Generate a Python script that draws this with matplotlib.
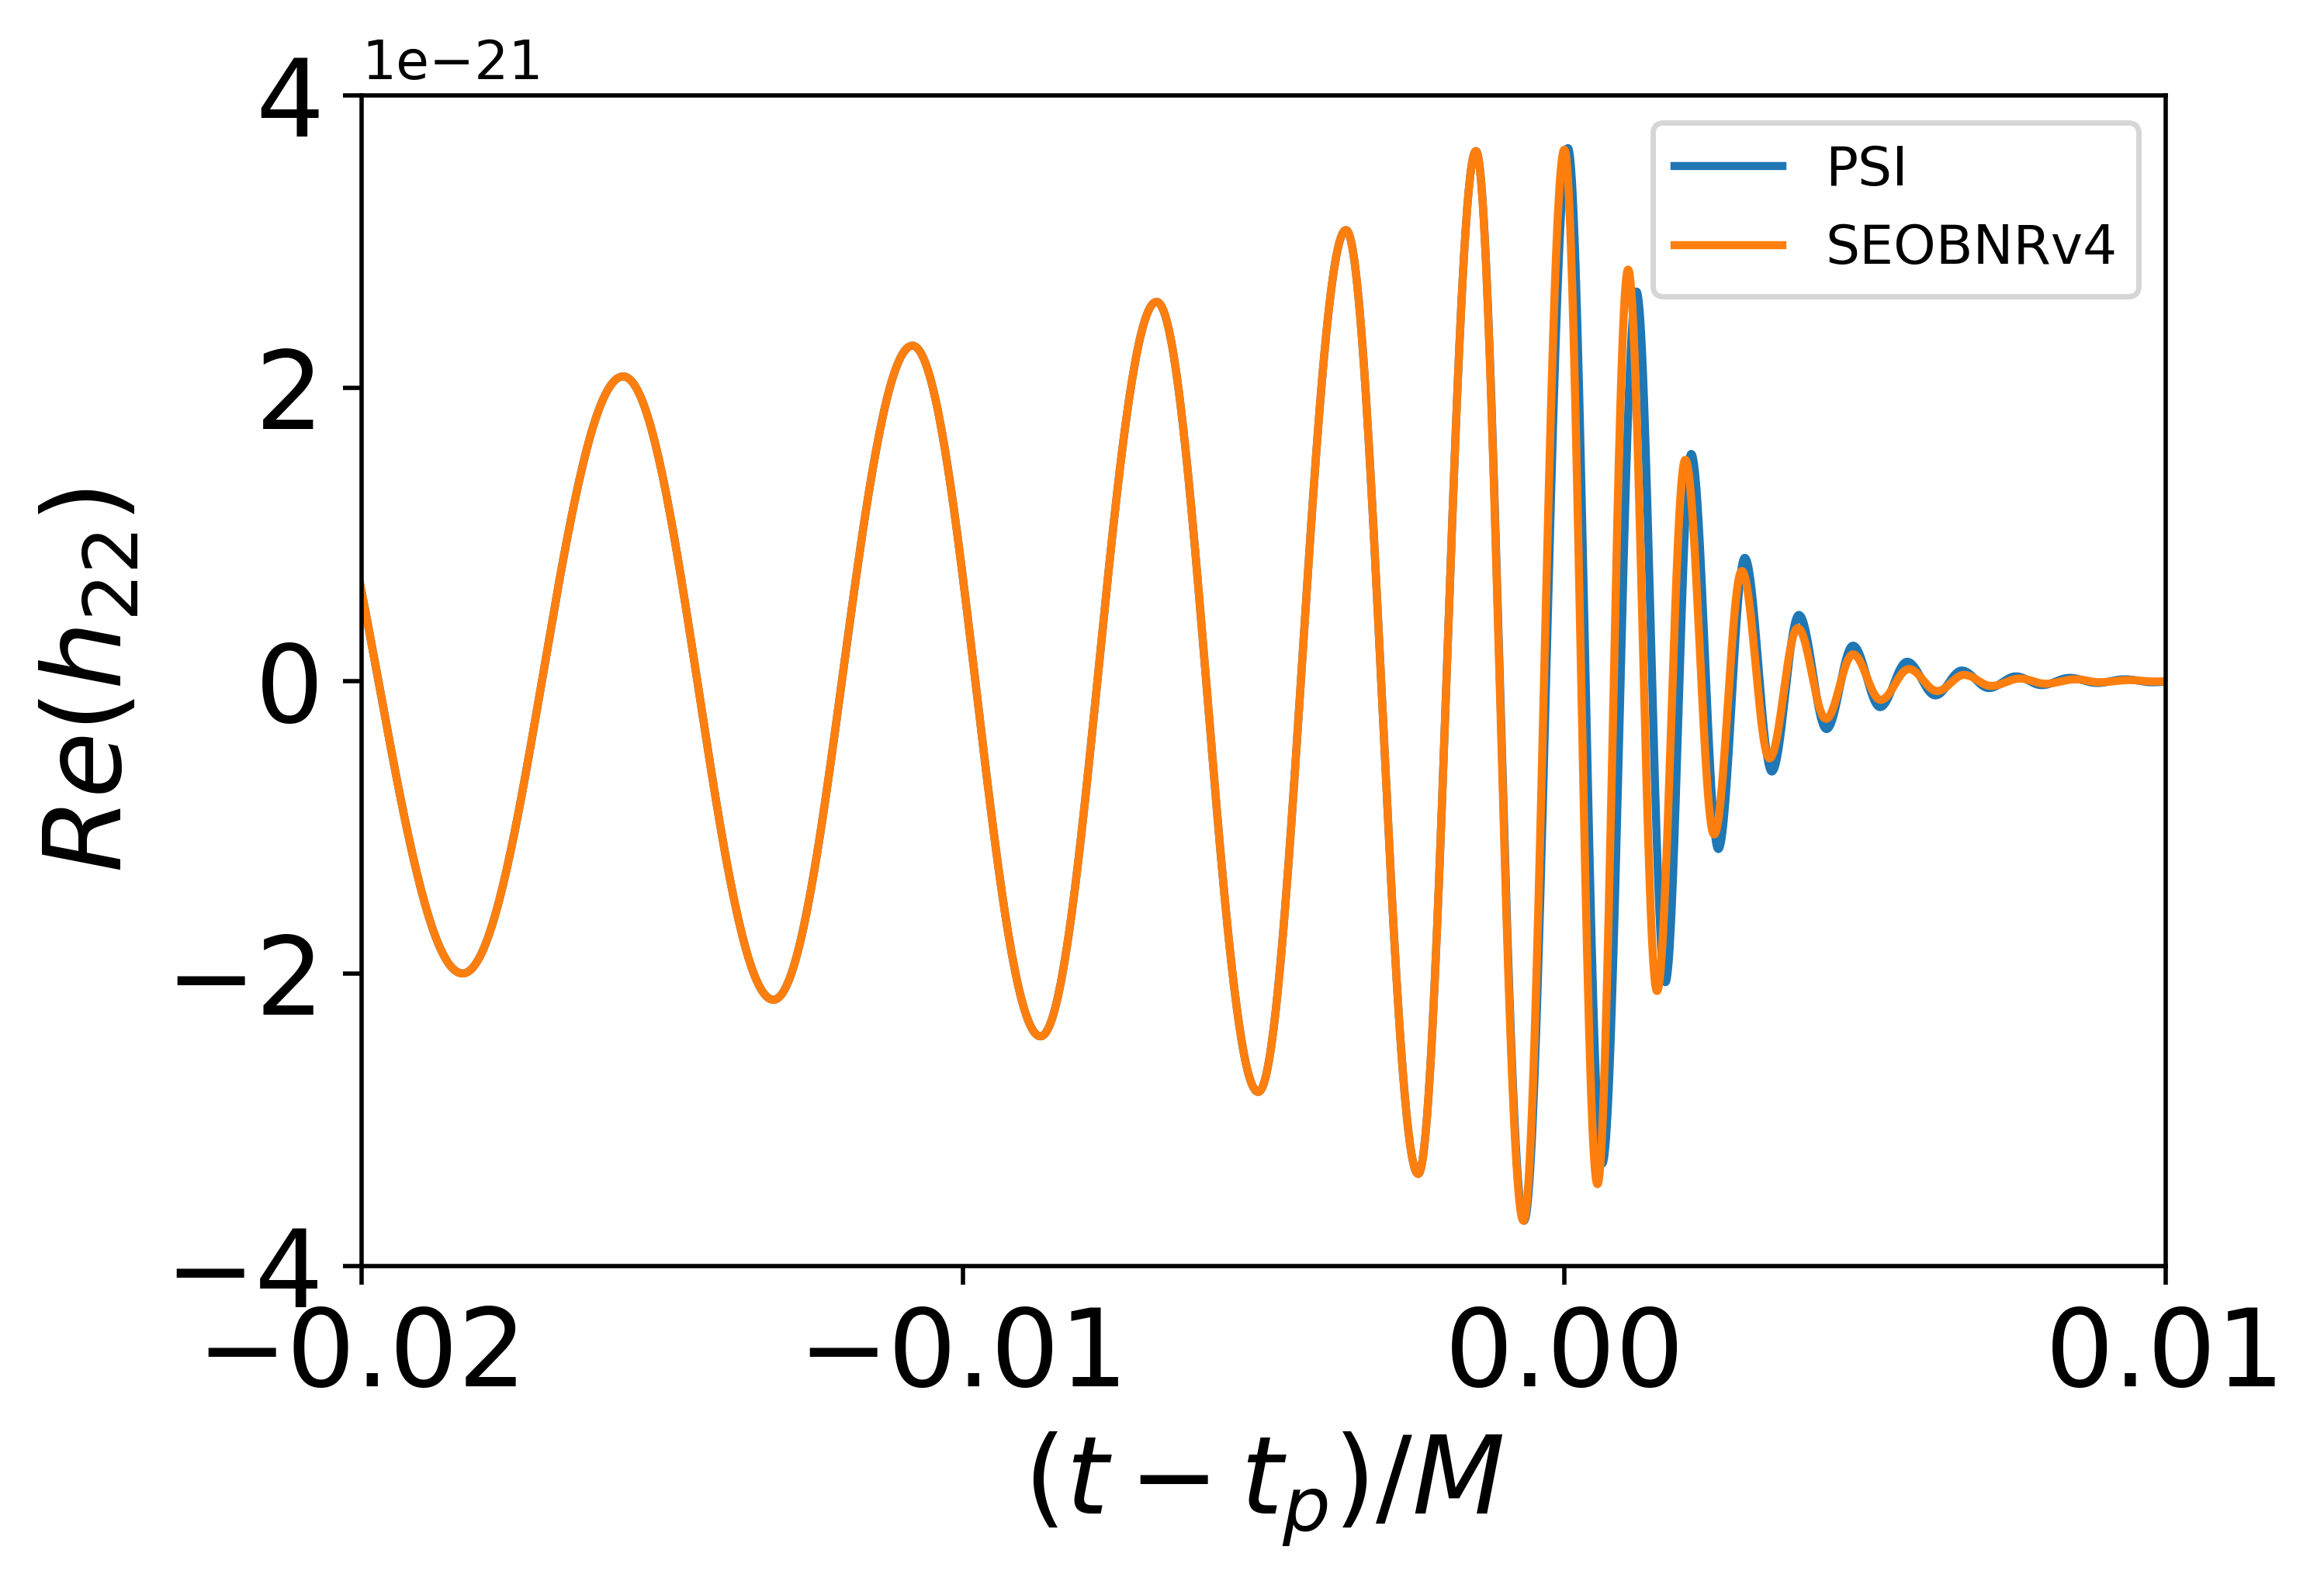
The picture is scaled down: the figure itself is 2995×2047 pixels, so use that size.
import numpy as np
import matplotlib
matplotlib.use("Agg")
import matplotlib.pyplot as plt

# extrema of Re(h22) (time, value in units of 1e-21)
psi_t = [-0.0211, -0.01832, -0.01565, -0.01315, -0.01084, -0.00871, -0.00678, -0.00509,
         -0.00363, -0.00243, -0.00147, -0.00067, 0.00006, 0.00063, 0.00120, 0.00168,
         0.00211, 0.00256, 0.00300, 0.00345, 0.00390, 0.00436, 0.00480, 0.00525,
         0.00570, 0.00617, 0.00661, 0.00706, 0.00751, 0.00794, 0.00840, 0.00886,
         0.00932, 0.00978, 0.01030]
psi_h = [1.95, -2.00, 2.08, -2.18, 2.29, -2.43, 2.59, -2.81,
         3.08, -3.37, 3.62, -3.69, 3.64, -3.30, 2.66, -2.06,
         1.55, -1.15, 0.84, -0.62, 0.45, -0.33, 0.24, -0.18,
         0.13, -0.10, 0.07, -0.05, 0.03, -0.03, 0.02, -0.015,
         0.01, -0.01, 0.0]

seob_t = [-0.0211, -0.01832, -0.01565, -0.01315, -0.01084, -0.00871, -0.00678, -0.00509,
          -0.00363, -0.00243, -0.00147, -0.00068, 0.00000, 0.00055, 0.00106, 0.00154,
          0.00201, 0.00249, 0.00295, 0.00341, 0.00388, 0.00435, 0.00480, 0.00526,
          0.00573, 0.00620, 0.00665, 0.00710, 0.00758, 0.00800, 0.00850, 0.00890,
          0.00940, 0.00980, 0.01030]
seob_h = [1.95, -2.00, 2.08, -2.18, 2.29, -2.43, 2.59, -2.81,
          3.08, -3.37, 3.62, -3.69, 3.63, -3.44, 2.81, -2.12,
          1.51, -1.05, 0.75, -0.53, 0.36, -0.26, 0.18, -0.13,
          0.08, -0.07, 0.04, -0.035, 0.015, -0.02, 0.01, -0.01,
          0.005, -0.005, 0.0]

labels = ["PSI", "SEOBNRv4"]
xticks = [-0.02, -0.01, 0.0, 0.01]
yticks = [-4, -2, 0, 2, 4]


def wave(tp, hp):
    # join successive extrema with half-cosine arcs
    ts, hs = [], []
    for i in range(len(tp) - 1):
        s = np.linspace(0, 1, 80, endpoint=False)
        mid = (hp[i] + hp[i + 1]) / 2
        amp = (hp[i] - hp[i + 1]) / 2
        ts.append(tp[i] + s * (tp[i + 1] - tp[i]))
        hs.append(mid + amp * np.cos(np.pi * s))
    ts.append([tp[-1]])
    hs.append([hp[-1]])
    return np.concatenate(ts), np.concatenate(hs) * 1e-21


fig = plt.figure(figsize=(5.99, 4.094), dpi=500)
ax = fig.add_axes([0.1556, 0.2027, 0.7763, 0.7372])

t1, h1 = wave(psi_t, psi_h)
t2, h2 = wave(seob_t, seob_h)
ax.plot(t1, h1, color="#1f77b4", lw=1.5, label=labels[0])
ax.plot(t2, h2, color="#ff7f0e", lw=1.5, label=labels[1])

ax.set_xlim(-0.02, 0.01)
ax.set_ylim(-4e-21, 4e-21)
ax.set_xticks(xticks)
ax.set_yticks([y * 1e-21 for y in yticks])
ax.tick_params(labelsize=20)
ax.set_xlabel(r"$(t-t_p)/M$", fontsize=20)
ax.set_ylabel(r"$Re(h_{22})$", fontsize=20)
ax.legend(loc="upper right")

fig.savefig("out.png", dpi=500)
